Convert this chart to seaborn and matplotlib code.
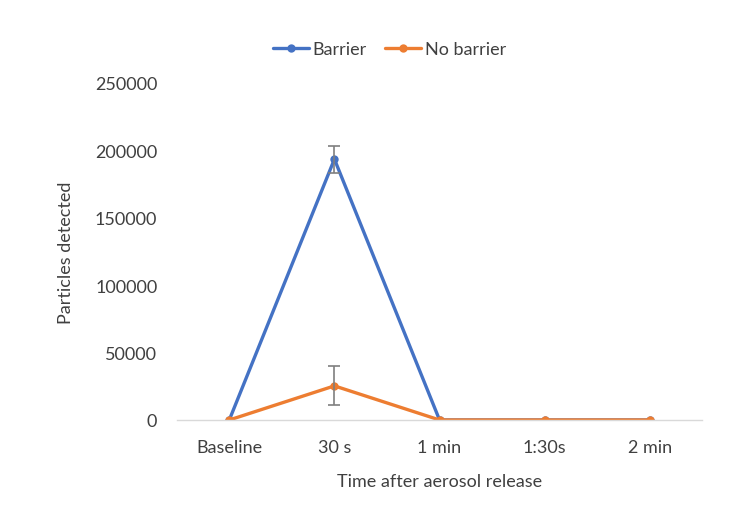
import matplotlib
matplotlib.use("Agg")
import matplotlib.pyplot as plt
import seaborn as sns
import pandas as pd
import numpy as np

categories = ["Baseline", "30 s", "1 min", "1:30s", "2 min"]
barrier = [0, 193500, 0, 0, 0]
barrier_err = [0, 10000, 0, 0, 0]
no_barrier = [0, 25300, 0, 0, 0]
no_barrier_err = [0, 14500, 0, 0, 0]

sns.set_theme(style="white")
plt.rcParams['font.family'] = ['Lato', 'DejaVu Sans']

df = pd.DataFrame({
    "Time": categories * 2,
    "Particles": barrier + no_barrier,
    "Series": ["Barrier"] * 5 + ["No barrier"] * 5,
})

fig = plt.figure(figsize=(7.52, 5.06), dpi=100)
ax = fig.add_axes([0.235, 0.168, 0.699, 0.666])

palette = {"Barrier": "#4472C4", "No barrier": "#ED7D31"}
sns.lineplot(data=df, x="Time", y="Particles", hue="Series", palette=palette,
             marker="o", markersize=6, markeredgewidth=0, linewidth=2.4,
             sort=False, ax=ax)

x = np.arange(len(categories))
for vals, errs in [(barrier, barrier_err), (no_barrier, no_barrier_err)]:
    v = np.array(vals); e = np.array(errs)
    m = e > 0
    ax.errorbar(x[m], v[m], yerr=e[m], fmt="none", ecolor="#7F7F7F",
                elinewidth=1.2, capsize=4, capthick=1.2, zorder=5)

ax.set_xlim(-0.5, 4.5)
ax.set_ylim(0, 250000)
ax.set_yticks(np.arange(0, 250001, 50000))
ax.set_yticklabels([str(v) for v in range(0, 250001, 50000)])
ax.tick_params(axis="y", labelsize=13, colors="#404040", length=0, pad=14)
ax.tick_params(axis="x", labelsize=13, colors="#404040", length=0, pad=14)
for s in ["top", "right", "left"]:
    ax.spines[s].set_visible(False)
ax.spines["bottom"].set_color("#D9D9D9")
ax.spines["bottom"].set_linewidth(1)
ax.set_xlabel("Time after aerosol release", fontsize=13, color="#404040", labelpad=13)
ax.set_ylabel("Particles detected", fontsize=13, color="#404040", labelpad=15)

handles, labels = ax.get_legend_handles_labels()
leg = ax.legend(handles, labels, loc="center", bbox_to_anchor=(0.405, 1.1),
                ncol=2, frameon=False, fontsize=13, handlelength=2.0,
                handletextpad=0.2, columnspacing=1.0)
for t in leg.get_texts():
    t.set_color("#404040")

fig.savefig("out.png", dpi=100)
